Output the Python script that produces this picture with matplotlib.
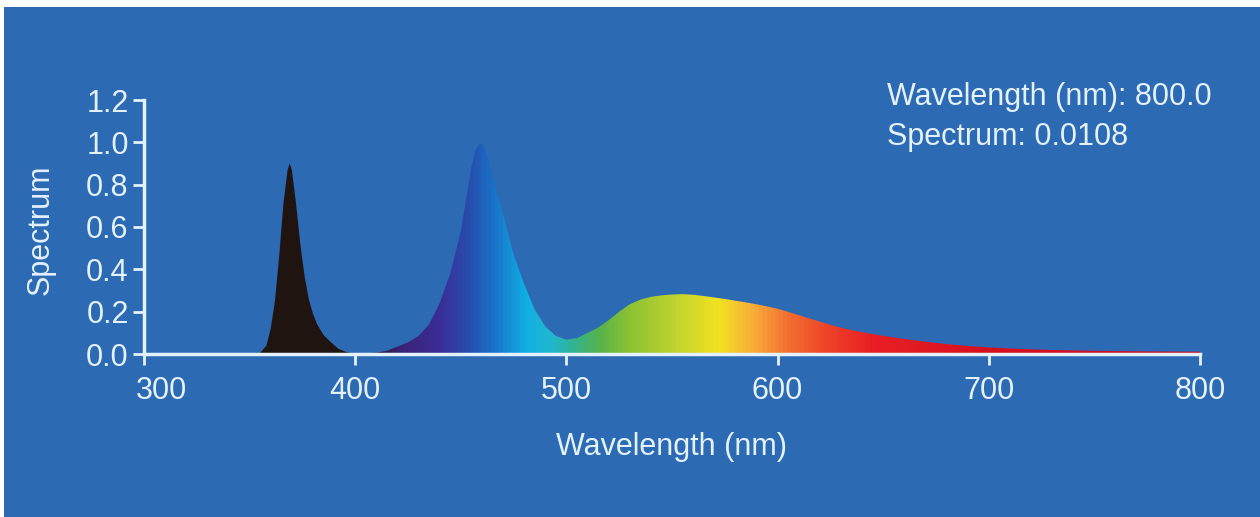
import numpy as np
import matplotlib
matplotlib.use("Agg")
from matplotlib import pyplot as plt
from matplotlib.colors import LinearSegmentedColormap
from matplotlib.patches import Rectangle
from matplotlib.transforms import ScaledTranslation

# spectrum (nm, relative intensity)
uv_nm = [300, 350, 355, 358, 360, 362, 364, 366, 368, 369, 370, 372, 374, 376, 378,
         380, 382, 385, 388, 392, 396]
uv_val = [0.0, 0.0, 0.005, 0.04, 0.12, 0.25, 0.46, 0.71, 0.87, 0.90, 0.87, 0.71, 0.52,
          0.37, 0.26, 0.19, 0.14, 0.09, 0.06, 0.025, 0.008]

blue_nm = [400, 410, 415, 420, 425, 430, 435, 440, 445, 450, 453, 455, 457, 459, 461,
           463, 465, 470, 475, 480, 485, 490, 495, 500, 505]
blue_val = [0.0, 0.006, 0.015, 0.035, 0.055, 0.085, 0.14, 0.24, 0.38, 0.58, 0.76, 0.88,
            0.965, 0.995, 0.985, 0.92, 0.84, 0.66, 0.47, 0.33, 0.21, 0.13, 0.085,
            0.068, 0.075]

phos_nm = [510, 515, 520, 525, 530, 535, 540, 545, 550, 555, 560, 565, 570, 575, 580,
           585, 590, 595, 600, 605, 610, 615, 620, 625, 630, 635, 640, 645, 650, 655,
           660, 670, 680, 690, 700, 710, 720, 730, 740, 750, 760, 770, 780, 790, 800]
phos_val = [0.10, 0.125, 0.16, 0.20, 0.235, 0.257, 0.27, 0.277, 0.281, 0.283, 0.28,
            0.274, 0.267, 0.26, 0.252, 0.244, 0.235, 0.225, 0.214, 0.199, 0.184, 0.168,
            0.153, 0.138, 0.124, 0.113, 0.103, 0.094, 0.086, 0.078, 0.071, 0.058, 0.047,
            0.038, 0.031, 0.026, 0.022, 0.019, 0.017, 0.015, 0.014, 0.013, 0.012,
            0.0113, 0.0108]

wavelength = np.array(uv_nm + blue_nm + phos_nm, dtype=float)
spectrum = np.array(uv_val + blue_val + phos_val)

x_ticks = [300, 400, 500, 600, 700, 800]
y_ticks = [0.0, 0.2, 0.4, 0.6, 0.8, 1.0, 1.2]

BG = "#2c6ab3"
FG = "#e4f1ff"
FS = 22

# colour of the fill along the wavelength axis
stops = [(300, "#1f1410"), (405, "#1f1410"), (420, "#3a2275"), (440, "#3b2d98"),
         (455, "#2452b0"), (465, "#1a70c8"), (480, "#10aee4"), (492, "#1fb8d0"),
         (502, "#2fb29a"), (515, "#55b24c"), (530, "#8cc232"), (550, "#bcd230"),
         (572, "#f2e222"), (588, "#f8b038"), (605, "#f27030"), (625, "#ef4028"),
         (645, "#e82024"), (700, "#d8101e"), (800, "#c8102a")]
cmap = LinearSegmentedColormap.from_list(
    "spec", [((w - 300) / 500, c) for w, c in stops])

plt.rcParams["font.family"] = ["Liberation Sans", "DejaVu Sans"]

fig = plt.figure(figsize=(12.6, 5.17), dpi=100, facecolor="white")
fig.patches.append(Rectangle((4 / 1260, 0), 1, 1 - 7 / 517, transform=fig.transFigure,
                             facecolor=BG, edgecolor="none", zorder=-10))
ax = fig.add_axes([144 / 1260, 1 - 354 / 517, 1056 / 1260, 254 / 517])
ax.set_facecolor(BG)

poly = ax.fill_between(wavelength, 0, spectrum, facecolor="none", edgecolor="none")
grad = np.linspace(300, 800, 1000).reshape(1, -1)
img = ax.imshow(grad, extent=[300, 800, 0, 1.2], aspect="auto", cmap=cmap,
                vmin=300, vmax=800, origin="lower", interpolation="bilinear")
img.set_clip_path(poly.get_paths()[0], transform=ax.transData)

ax.set_xlim(300, 800)
ax.set_ylim(0, 1.2)
ax.set_xticks(x_ticks)
ax.set_yticks(y_ticks)
ax.set_yticklabels(["%.1f" % v for v in y_ticks])

for s in ["top", "right"]:
    ax.spines[s].set_visible(False)
for s in ["left", "bottom"]:
    ax.spines[s].set_color(FG)
    ax.spines[s].set_linewidth(2.5)
    ax.spines[s].set_zorder(5)
ax.tick_params(colors=FG, labelsize=FS, length=8, width=2, direction="out")
ax.tick_params(axis="x", pad=8)
ax.tick_params(axis="y", pad=3)

# first x label sits to the right of its tick, clear of "0.0"
lab = ax.get_xticklabels()[0]
lab.set_transform(lab.get_transform() + ScaledTranslation(0.17, 0, fig.dpi_scale_trans))

ax.set_xlabel("Wavelength (nm)", fontsize=FS, color=FG)
ax.xaxis.set_label_coords(0.5, -0.366)
ax.xaxis.label.set_va("center")
ax.set_ylabel("Spectrum", fontsize=FS, color=FG)
ax.yaxis.set_label_coords(-0.098, 0.49)
ax.yaxis.label.set_va("center")

fig.text(887 / 1260, 1 - 97 / 517, "Wavelength (nm): %.1f" % wavelength[-1],
         fontsize=FS, color=FG, va="center")
fig.text(887 / 1260, 1 - 137 / 517, "Spectrum: %.4f" % spectrum[-1],
         fontsize=FS, color=FG, va="center")

fig.savefig("out.png", dpi=100, facecolor=fig.get_facecolor())
